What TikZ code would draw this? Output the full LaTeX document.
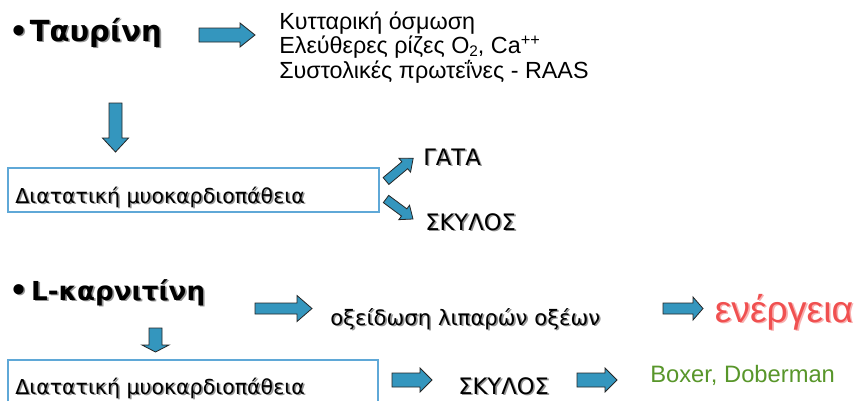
\documentclass[tikz,border=0pt]{standalone}
\usepackage{fontspec}
\setmainfont{Liberation Sans}
\newfontfamily\tahomafont{DejaVu Sans}

\definecolor{arrowblue}{RGB}{52,150,190}
\definecolor{boxblue}{RGB}{95,168,215}
\definecolor{shadowgray}{RGB}{150,150,150}
\definecolor{energyred}{RGB}{240,80,80}
\definecolor{breedgreen}{RGB}{88,150,42}

% text with a soft shadow below right
\newcommand{\shadowed}[2][shadowgray]{%
  \rlap{\kern1.2pt\raisebox{-1.2pt}{\textcolor{#1}{#2}}}{#2}}
\newcommand{\lowsub}[1]{\raisebox{-0.14em}{\fontsize{11.5}{12}\selectfont #1}}

\tikzset{
  txt/.style={inner sep=0pt, anchor=base west},
  headline/.style={font=\tahomafont\bfseries\fontsize{21.8}{24}\selectfont},
  listtext/.style={font=\fontsize{17.5}{20}\selectfont, text height=13pt, text depth=3pt},
  boxtext/.style={font=\tahomafont\fontsize{15.4}{18}\selectfont},
  animal/.style={font=\tahomafont\fontsize{17}{20}\selectfont},
  arrowbody/.style={fill=arrowblue, draw=black!85, line width=0.6pt, line join=miter},
  boxline/.style={draw=boxblue, line width=0.8pt},
  pics/blockarr/.style n args={4}{code={%
    \draw[arrowbody] (0,-#3) -- ({#1-#2},-#3) -- ({#1-#2},-#4) -- (#1,0)
      -- ({#1-#2},#4) -- ({#1-#2},#3) -- (0,#3) -- cycle;}},
}

\begin{document}
\begin{tikzpicture}[x=0.75pt, y=-0.75pt]
    \useasboundingbox[fill=white] (0,0) rectangle (855,401);

    % Taurine
    \node[txt, headline] (taurine) at (9,41) {\shadowed{•\hspace{1.5pt}Ταυρίνη}};
    \pic at (199,35) {blockarr={56}{15}{7}{12}};
    \node[txt, listtext] (eff1) at (279,29.5) {Κυτταρική όσμωση};
    \node[txt, listtext] (eff2) at (279,53.5) {Ελεύθερες ρίζες O\lowsub{2}, Ca\textsuperscript{++}};
    \node[txt, listtext] (eff3) at (279,78) {Συστολικές πρωτεΐνες - RAAS};

    % Dilated cardiomyopathy (cat / dog)
    \pic[rotate=-90] at (115.5,103) {blockarr={49}{14}{6.5}{13}};
    \draw[boxline] (8,168) rectangle (379,212);
    \node[txt, boxtext] (dcm1) at (15,203) {\shadowed{Διατατική μυοκαρδιοπάθεια}};
    \pic[rotate=40] at (386,181) {blockarr={35.5}{11}{4.5}{9}};
    \pic[rotate=-36.5] at (386,199) {blockarr={33.6}{11}{4.5}{9}};
    \node[txt, animal] (cat) at (423,165) {\shadowed{ΓΑΤΑ}};
    \node[txt, animal] (dog1) at (425,230) {\shadowed{ΣΚΥΛΟΣ}};

    % L-carnitine
    \node[txt, headline, font=\tahomafont\bfseries\fontsize{19.6}{24}\selectfont] (carnitine) at (9,300)
        {\shadowed{{\fontsize{21.8}{24}\selectfont•}\hspace{2.5pt}L-καρνιτίνη}};
    \pic at (255,308.5) {blockarr={57}{15}{5.5}{13}};
    \node[txt, boxtext, font=\tahomafont\fontsize{15.9}{18}\selectfont] (oxid) at (330,325) {\shadowed{οξείδωση λιπαρών οξέων}};
    \pic at (663,308.5) {blockarr={40}{10}{5.5}{11.5}};
    \node[txt, font=\fontsize{28}{32}\selectfont, text=energyred] (energy) at (714.5,322)
        {\shadowed[energyred!45!white]{ενέργεια}};

    % Dilated cardiomyopathy (dog breeds)
    \pic[rotate=-90] at (155.5,328) {blockarr={24}{7}{6.5}{13.5}};
    \draw[boxline] (8,401) -- (8,360) -- (378,360) -- (378,401);
    \node[txt, boxtext] (dcm2) at (15,394) {\shadowed{Διατατική μυοκαρδιοπάθεια}};
    \pic at (392,380) {blockarr={40}{12}{7}{12}};
    \node[txt, animal] (dog2) at (458,394) {\shadowed{ΣΚΥΛΟΣ}};
    \pic at (577,380) {blockarr={40}{12}{7}{12}};
    \node[txt, font=\fontsize{17.8}{20}\selectfont, text=breedgreen] (breeds) at (650,382) {Boxer, Doberman};
\end{tikzpicture}
\end{document}
